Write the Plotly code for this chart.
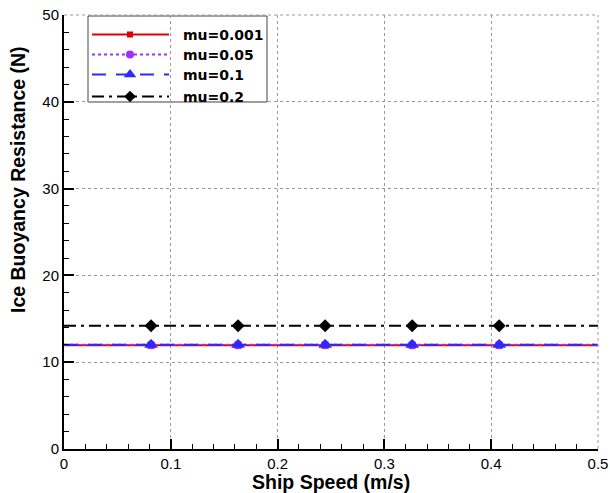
import plotly.graph_objects as go

# ---- data ----
speed = [0.0, 0.0815, 0.163, 0.2445, 0.326, 0.4075, 0.5]
series_names = ["mu=0.001", "mu=0.05", "mu=0.1", "mu=0.2"]
res_mu0001 = [11.95, 11.95, 11.95, 11.95, 11.95, 11.95, 11.95]
res_mu005 = [12.0, 12.0, 12.0, 12.0, 12.0, 12.0, 12.0]
res_mu01 = [12.0, 12.0, 12.0, 12.0, 12.0, 12.0, 12.0]
res_mu02 = [14.2, 14.2, 14.2, 14.2, 14.2, 14.2, 14.2]
x_ticks = [0, 0.1, 0.2, 0.3, 0.4, 0.5]
x_tick_text = ["0", "0.1", "0.2", "0.3", "0.4", "0.5"]
y_ticks = [0, 10, 20, 30, 40, 50]
x_title = "Ship Speed (m/s)"
y_title = "Ice Buoyancy Resistance (N)"

styles = [
    dict(color="#e00000", dash="solid", symbol="square", size=7),
    dict(color="#9b30ff", dash="dot", symbol="circle", size=9),
    dict(color="#2a2aff", dash="14px,10px", symbol="triangle-up", size=12),
    dict(color="#000000", dash="12px,5px,3px,5px", symbol="diamond", size=10),
]
values = [res_mu0001, res_mu005, res_mu01, res_mu02]

fig = go.Figure()
n = len(speed)
msizes = lambda s: [0] + [s] * (n - 2) + [0]
for name, vals, st in zip(series_names, values, styles):
    fig.add_trace(go.Scatter(
        x=speed, y=vals, mode="lines+markers", name=name, showlegend=False,
        line=dict(color=st["color"], width=2, dash=st["dash"]),
        marker=dict(symbol=st["symbol"], size=msizes(st["size"]), color=st["color"],
                    opacity=1, line=dict(width=0)),
    ))

# ---- custom legend on overlay axes (0..1 over plot area) ----
L, R, T, B = 64, 598, 15, 449
W, H = R - L, B - T
px = lambda x: (x - L) / W
py = lambda y: (B - y) / H
rows = [34.5, 54.5, 74.5, 96.5]
for name, st, ry in zip(series_names, styles, rows):
    fig.add_trace(go.Scatter(
        x=[px(92), px(130), px(169)], y=[py(ry)] * 3, xaxis="x2", yaxis="y2",
        mode="lines+markers", showlegend=False, hoverinfo="skip",
        line=dict(color=st["color"], width=2, dash=st["dash"]),
        marker=dict(symbol=st["symbol"], size=[0, st["size"] - 1, 0], color=st["color"],
                    opacity=1, line=dict(width=0)),
    ))
    fig.add_annotation(x=px(181), y=py(ry), xref="x2", yref="y2", text=f"<b>{name}</b>",
                       showarrow=False, xanchor="left", yanchor="middle",
                       font=dict(family="DejaVu Sans", size=14, color="black"))
fig.add_shape(type="rect", xref="x2", yref="y2", x0=px(88), x1=px(267), y0=py(102), y1=py(16),
              line=dict(color="#444444", width=1), fillcolor="white", layer="below")

# top/right dotted borders
fig.add_shape(type="line", xref="paper", yref="paper", x0=0, x1=1, y0=1, y1=1,
              line=dict(color="#999999", width=1, dash="dot"))
fig.add_shape(type="line", xref="paper", yref="paper", x0=1, x1=1, y0=0, y1=1,
              line=dict(color="#999999", width=1, dash="dot"))

axfont = dict(family="Liberation Sans, Arial", size=15, color="black")
titlefont = dict(family="Liberation Sans, Arial", size=19.5, color="black")

# axis titles as annotations
fig.add_annotation(x=0.5, y=0, xref="paper", yref="paper", text=f"<b>{x_title}</b>",
                   showarrow=False, xanchor="center", yanchor="middle", yshift=-(482 - B),
                   font=titlefont)
fig.add_annotation(x=0, y=py(180), xref="paper", yref="paper", text=f"<b>{y_title}</b>",
                   showarrow=False, xanchor="center", yanchor="middle", xshift=18 - L,
                   textangle=-90, font=titlefont)

fig.update_layout(
    width=610, height=493,
    margin=dict(l=L, r=610 - R, t=T, b=493 - B, autoexpand=False),
    paper_bgcolor="white", plot_bgcolor="white",
    xaxis=dict(range=[0, 0.5], tickvals=x_ticks, ticktext=x_tick_text, automargin=False,
               ticks="inside", ticklen=10, tickwidth=2, tickcolor="black",
               minor=dict(dtick=0.02, ticks="inside", ticklen=5, tickwidth=1, tickcolor="black",
                          showgrid=False),
               showline=True, linecolor="black", linewidth=2,
               showgrid=True, gridcolor="#999999", griddash="dot", gridwidth=1,
               zeroline=False, tickfont=axfont),
    yaxis=dict(range=[0, 50], tickvals=y_ticks, automargin=False,
               ticks="inside", ticklen=10, tickwidth=2, tickcolor="black",
               minor=dict(dtick=2, ticks="inside", ticklen=5, tickwidth=1, tickcolor="black",
                          showgrid=False),
               showline=True, linecolor="black", linewidth=2,
               showgrid=True, gridcolor="#999999", griddash="dot", gridwidth=1,
               zeroline=False, tickfont=axfont),
    xaxis2=dict(range=[0, 1], overlaying="x", visible=False, fixedrange=True),
    yaxis2=dict(range=[0, 1], overlaying="y", visible=False, fixedrange=True),
    showlegend=False,
)
fig.write_html("out.html")
